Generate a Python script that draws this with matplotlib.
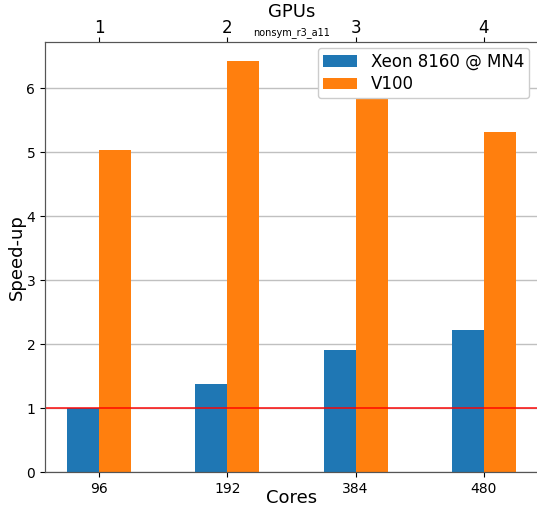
import matplotlib
matplotlib.use("Agg")
import matplotlib.pyplot as plt
import numpy as np

cores = ["96", "192", "384", "480"]
gpus = ["1", "2", "3", "4"]
xeon_speedup = [1.00, 1.375, 1.91, 2.22]
v100_speedup = [5.04, 6.42, 5.84, 5.32]

x = np.arange(len(cores))
width = 0.25

fig = plt.figure(figsize=(5.37, 5.08), dpi=100)
ax = fig.add_axes([45 / 537, 36 / 508, 493 / 537, 430 / 508])

ax.bar(x - width / 2, xeon_speedup, width, color="#1f77b4", label="Xeon 8160 @ MN4", zorder=2)
ax.bar(x + width / 2, v100_speedup, width, color="#ff7f0e", label="V100", zorder=2)
ax.axhline(1, color="red", linewidth=1.3, alpha=0.8, zorder=3)

ax.set_xticks(x)
ax.set_xticklabels(cores, fontsize=10)
ax.set_xlabel("Cores", fontsize=13, va="center")
ax.xaxis.set_label_coords(0.5, -0.0605)
ax.set_ylabel("Speed-up", fontsize=13, va="center")
ax.yaxis.set_label_coords(-0.057, 0.5)
ax.tick_params(axis="y", labelsize=10)
ax.set_ylim(0, 6.72)
ax.yaxis.grid(True, color="#c0c0c0", linewidth=1, zorder=0)
ax.set_axisbelow(True)
for s in ax.spines.values():
    s.set_color("#555555")

ax2 = ax.twiny()
ax2.set_xlim(ax.get_xlim())
ax2.set_xticks(x)
ax2.set_xticklabels(gpus, fontsize=12)
ax2.tick_params(axis="x", pad=0)
ax2.set_xlabel("GPUs", fontsize=13, va="center")
ax2.xaxis.set_label_coords(0.5, 1.07)
for s in ax2.spines.values():
    s.set_color("#555555")

ax.text(0.5, 1.01, "nonsym_r3_a11", transform=ax.transAxes, ha="center", va="bottom", fontsize=7)

ax.legend(loc="upper right", fontsize=12, bbox_to_anchor=(484 / 493, 424 / 430), borderaxespad=0,
          framealpha=1, labelspacing=0.26, handlelength=2.04, handletextpad=0.84, borderpad=0.3)

fig.savefig("out.png", dpi=100)
